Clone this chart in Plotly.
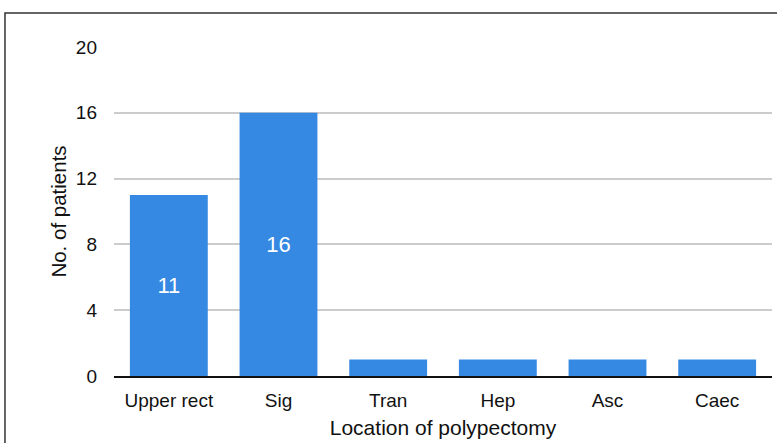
import plotly.graph_objects as go

categories = ["Upper rect", "Sig", "Tran", "Hep", "Asc", "Caec"]
patients = [11, 16, 1, 1, 1, 1]
bar_labels = ["11", "16", "", "", "", ""]
y_ticks = [0, 4, 8, 12, 16, 20]

FONT = "Liberation Sans, Arial, Helvetica, sans-serif"

fig = go.Figure()
fig.add_trace(go.Bar(
    x=categories, y=patients, text=bar_labels,
    textposition="inside", insidetextanchor="middle",
    textfont=dict(color="white", size=22, family=FONT),
    marker=dict(color="#3689e3", line=dict(width=0)),
    hoverinfo="x+y",
))

fig.update_layout(
    width=777, height=443,
    margin=dict(l=114, r=5, t=47, b=67),
    paper_bgcolor="white", plot_bgcolor="white",
    bargap=0.29, showlegend=False,
    font=dict(family=FONT, color="#111", size=19),
    xaxis=dict(
        showgrid=False, showline=True, linecolor="#111", linewidth=1.5,
        ticks="", ticklabelstandoff=6,
        title=dict(text="Location of polypectomy", font=dict(size=21), standoff=11),
    ),
    yaxis=dict(
        range=[0, 20], tickvals=y_ticks, showgrid=True, gridcolor="#cccccc", gridwidth=1.5,
        zeroline=False, showline=False, ticks="", ticklabelstandoff=16,
        title=dict(text="No. of patients", font=dict(size=20.5), standoff=3),
    ),
    shapes=[dict(type="rect", xref="paper", yref="paper",
                 x0=-0.1657, x1=1.03, y0=-0.26, y1=1.1033,
                 line=dict(color="#333", width=1.5), fillcolor="rgba(0,0,0,0)", layer="above")],
)

fig.write_html("out.html", config={"displayModeBar": False},
               post_script="document.body.style.margin='0';")
